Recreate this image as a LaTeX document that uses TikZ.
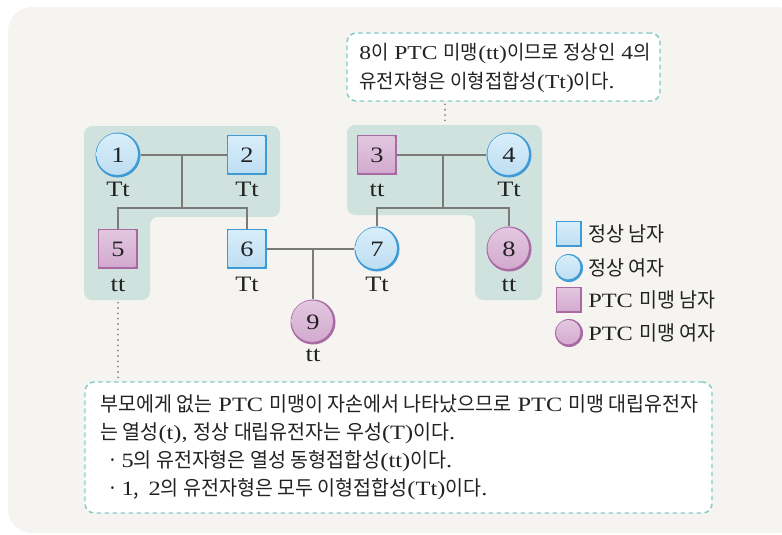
\documentclass[tikz,border=0pt]{standalone}
\usepackage{fontspec}
\setmainfont{Liberation Serif}[FakeStretch=1.2]
\newfontfamily\kr{Noto Sans CJK KR}[FakeStretch=0.96]
\newcommand\K[1]{{\kr #1}}
\newcommand\mytxt{\fontsize{15.25pt}{18pt}\selectfont}
\newcommand\mytop{\fontsize{14.75pt}{18pt}\selectfont}
\newcommand\mylab{\fontsize{16.5pt}{18pt}\selectfont}
\definecolor{bgc}{HTML}{F5F4F0}
\definecolor{regionc}{HTML}{D0E2DE}
\definecolor{linec}{HTML}{7A7A7A}
\definecolor{dotc}{HTML}{8A8A8A}
\definecolor{tealc}{HTML}{86CBC6}
\definecolor{textc}{HTML}{222222}
\definecolor{bluerim}{HTML}{3F9BD6}
\definecolor{bluetop}{HTML}{D9EEFA}
\definecolor{bluebot}{HTML}{BDDDF2}
\definecolor{pinkrim}{HTML}{A96AA4}
\definecolor{pinktop}{HTML}{E3C8E0}
\definecolor{pinkbot}{HTML}{D2A8CE}
\tikzset{
  link/.style={draw=linec, line width=0.9pt},
  dotline/.style={draw=dotc, line width=1.6pt, line cap=round, dash pattern=on 0pt off 4pt},
  callout/.style={draw=tealc, line width=1.1pt, dash pattern=on 3.5pt off 2.5pt, rounded corners=7pt, fill=white, inner sep=0},
  region/.style={fill=regionc, rounded corners=6pt},
  txt/.style={inner sep=0, font=\mytxt, text=textc},
  lab/.style={inner sep=0, anchor=base, font=\mylab, text=textc},
  sqbase/.style 2 args={rectangle, minimum size=#1, inner sep=0, fill=#2rim, font=\mylab, text=textc,
    path picture={\shade[top color=#2top, bottom color=#2bot]
      ([shift={(1pt,-1pt)}]path picture bounding box.north west) rectangle
      ([shift={(-1.9pt,2.1pt)}]path picture bounding box.south east);}},
  circbase/.style 2 args={circle, minimum size=2*#1, inner sep=0, fill=#2rim, font=\mylab, text=textc,
    path picture={\shade[top color=#2top, bottom color=#2bot]
      ([shift={(-0.6pt,0.6pt)}]path picture bounding box.center) circle[radius=#1-1.35pt];}},
  bluesq/.style={sqbase={#1}{blue}},
  pinksq/.style={sqbase={#1}{pink}},
  bluecirc/.style={circbase={#1}{blue}},
  pinkcirc/.style={circbase={#1}{pink}},
}
\begin{document}
\begin{tikzpicture}[x=0.75pt, y=-0.75pt]
\clip (0,0) rectangle (782,535);
\fill[bgc, rounded corners=18pt] (8,7) rectangle (800,533);
% shaded regions
\fill[region] (84,126) -- (280,126) -- (280,217) -- (150,217) -- (150,300) -- (84,300) -- cycle;
\fill[region] (347,125) -- (542,125) -- (542,300) -- (475,300) -- (475,215) -- (347,215) -- cycle;
% individuals
\node[bluecirc=16.875pt] (n1) at (118,155) {1};
\node[bluesq=30pt] (n2) at (247,155) {2};
\node[pinksq=30pt] (n3) at (377,155) {3};
\node[bluecirc=16.875pt] (n4) at (509,155) {4};
\node[pinksq=30pt] (n5) at (118,249) {5};
\node[bluesq=30pt] (n6) at (247,249) {6};
\node[bluecirc=16.875pt] (n7) at (377,249) {7};
\node[pinkcirc=16.875pt] (n8) at (509,249) {8};
\node[pinkcirc=16.875pt] (n9) at (313,322) {9};
% genotypes
\node[lab] (g1) at (118,196) {Tt};
\node[lab] (g2) at (247,196) {Tt};
\node[lab] (g3) at (377,196) {tt};
\node[lab] (g4) at (509,196) {Tt};
\node[lab] (g5) at (118,291) {tt};
\node[lab] (g6) at (247,291) {Tt};
\node[lab] (g7) at (377,291) {Tt};
\node[lab] (g8) at (509,291) {tt};
\node[lab] (g9) at (313,361) {tt};
% connectors
\coordinate (m12) at (182,155);
\coordinate (s12) at (182,208);
\coordinate (m34) at (443,155);
\coordinate (s34) at (443,208);
\coordinate (m67) at (313,249);
\draw[link] (n1) -- (n2);
\draw[link] (m12) -- (s12);
\draw[link] (n5.north) |- (s12) -| (n6.north);
\draw[link] (n3) -- (n4);
\draw[link] (m34) -- (s34);
\draw[link] (n7.north) |- (s34) -| (n8.north);
\draw[link] (n6) -- (n7);
\draw[link] (m67) -- (n9.north);
% legend
\node[bluesq=20pt] (k1) at (569,234) {};
\node[bluecirc=10.5pt] (k2) at (569,268) {};
\node[pinksq=20pt] (k3) at (569,300) {};
\node[pinkcirc=10.5pt] (k4) at (569,333) {};
\node[txt, anchor=west] (k1t) at (588,234) {\K{정상 남자}};
\node[txt, anchor=west] (k2t) at (588,268) {\K{정상 여자}};
\node[txt, anchor=west] (k3t) at (588,300) {PTC \K{미맹 남자}};
\node[txt, anchor=west] (k4t) at (588,333) {PTC \K{미맹 여자}};
% top callout
\node[callout, minimum width=234.75pt, minimum height=51pt] (top) at (503.5,67) {};
\node[txt, font=\mytop, anchor=base west] (t1) at (359,60) {8\K{이} PTC \K{미맹}(tt)\K{이므로 정상인} 4\K{의}};
\node[txt, font=\mytop, anchor=base west] (t2) at (359,89) {\K{유전자형은 이형접합성}(Tt)\K{이다}.};
\coordinate (ra) at (445,125);
\draw[dotline, shorten <=2pt, shorten >=2pt] (top.south -| ra) -- (ra);
% bottom callout
\node[callout, minimum width=470.25pt, minimum height=98.25pt] (bot) at (398.5,447.5) {};
\node[txt, anchor=base west] (b1) at (100,411) {\K{부모에게 없는} PTC \K{미맹이 자손에서 나타났으므로} PTC \K{미맹 대립유전자}};
\node[txt, anchor=base west] (b2) at (100,439) {\K{는 열성}(t), \K{정상 대립유전자는 우성}(T)\K{이다}.};
\node[txt, anchor=base west] (b3) at (107,467) {\K{·}\,5\K{의 유전자형은 열성 동형접합성}(tt)\K{이다}.};
\node[txt, anchor=base west] (b4) at (107,495) {\K{·}\,1\K{,}\, 2\K{의 유전자형은 모두 이형접합성}(Tt)\K{이다}.};
\coordinate (la) at (118,300);
\draw[dotline, shorten <=2pt, shorten >=2pt] (la) -- (la |- bot.north);
\end{tikzpicture}
\end{document}
